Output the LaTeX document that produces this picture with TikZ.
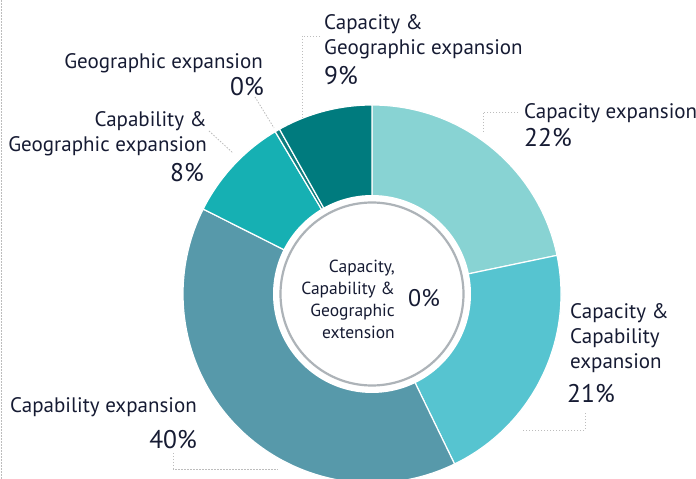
\documentclass[tikz,border=0pt]{standalone}
\usepackage{fontspec}
\setmainfont{PT Sans}
\usetikzlibrary{positioning}
\definecolor{txt}{HTML}{161B33}
\definecolor{leadgray}{HTML}{BDBDBD}
\definecolor{ringgray}{HTML}{ADB3B8}
\definecolor{capA}{HTML}{88D3D3}
\definecolor{capB}{HTML}{56C4D0}
\definecolor{capC}{HTML}{5799AA}
\definecolor{capD}{HTML}{16B0B3}
\definecolor{capE}{HTML}{0E7E80}
\definecolor{capF}{HTML}{007B7E}
\tikzset{
  lbl/.style={text=txt,inner sep=0pt,font=\fontsize{21}{25}\selectfont},
  pct/.style={text=txt,inner sep=0pt,font=\fontsize{25.5}{28}\selectfont},
  mid/.style={text=txt,inner sep=0pt,align=right,font=\fontsize{17.5}{22}\selectfont},
  lead/.style={draw=leadgray,dash pattern=on 1.5pt off 1.5pt,line width=0.8pt}
}
\begin{document}
\begin{tikzpicture}[>=stealth,x=1pt,y=1pt]
		\def\R{189}
		\def\r{99}
		\clip (0,0) rectangle (696,479);
		\coordinate (c) at (372,185);
		\foreach \s/\e/\col in {90/11.8/capA,11.8/-64.1/capB,-64.1/-206.7/capC,-206.7/-239.2/capD,-239.2/-240.7/capE,-240.7/-270/capF}
		  \fill[\col,draw=white,line width=1.2pt] (c) -- ++(\s:\R) arc[start angle=\s,end angle=\e,radius=\R] -- cycle;
		\fill[white] (c) circle (\r);
		\draw[ringgray,line width=2.2pt] (c) circle (91.5);
		\node[mid,anchor=north east] (mid) at (395,219) {Capacity,\\Capability \&\\Geographic\\extension};
		\node[pct,font=\fontsize{24}{26}\selectfont,anchor=west] (midp) at (408,181) {0\%};
		\node[lbl,align=left,anchor=north west] (capgeo) at (324,465) {Capacity \&\\Geographic expansion};
		\node[pct,anchor=north west] (capgeop) at (324,413) {9\%};
		\node[lbl,anchor=north east] (geo) at (263,426) {Geographic expansion};
		\node[pct,anchor=north east] (geop) at (264,402) {0\%};
		\node[lbl,align=right,anchor=north east] (capbgeo) at (207,368) {Capability \&\\Geographic expansion};
		\node[pct,anchor=north east] (capbgeop) at (204,316) {8\%};
		\node[lbl,anchor=north west] (capa) at (524,376) {Capacity expansion};
		\node[pct,anchor=north west] (capap) at (524,351) {22\%};
		\node[lbl,align=left,anchor=north west] (capcap) at (570,176) {Capacity \&\\Capability\\expansion};
		\node[pct,anchor=north west] (capcapp) at (567,95) {21\%};
		\node[lbl,anchor=north west] (capb) at (10,82) {Capability expansion};
		\node[pct,anchor=north east] (capbp) at (197,49) {40\%};
		\coordinate (l9a) at (320,443); \coordinate (l9b) at (302,361);
		\coordinate (l22a) at (518,367); \coordinate (l22b) at (483,347);
		\coordinate (l21a) at (585,66); \coordinate (l21b) at (522,49);
		\coordinate (l40a) at (173,26); \coordinate (l40b) at (278,10);
		\coordinate (l8a) at (209,348); \coordinate (l8b) at (233,326);
		\coordinate (l0a) at (255,382); \coordinate (l0b) at (274,351);
		\draw[lead] (l9a) -| (l9b);
		\draw[lead] (l22a) -| (l22b);
		\draw[lead] (l21a) |- (l21b);
		\draw[lead] (l40a) |- (l40b);
		\draw[lead] (l8a) -- (l8b);
		\draw[lead] (l0a) -- (l0b);
		\draw[lead] (1,0) -- (1,479);
\end{tikzpicture}
\end{document}
